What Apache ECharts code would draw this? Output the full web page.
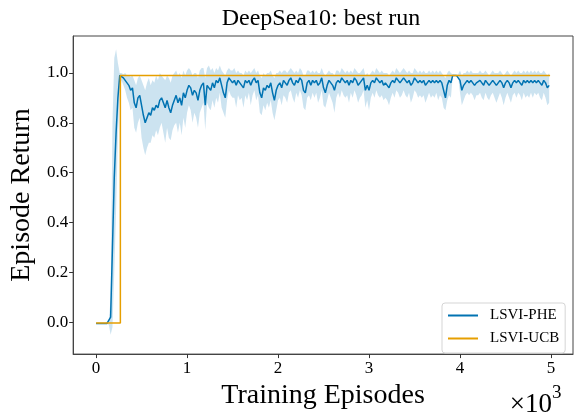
<!DOCTYPE html>
<html>
<head>
<meta charset="utf-8">
<script src="https://cdn.jsdelivr.net/npm/echarts@6/dist/echarts.min.js"></script>
<style>html,body{margin:0;padding:0;background:#fff;}#chart{width:576px;height:415px;}</style>
</head>
<body>
<div id="chart"></div>
<script>
// ---- data ----
const STEP = 20;
const pheEpisodes = Array.from({length: 250}, (_, i) => i * STEP);
const pheMean = [
 -0.005,-0.005,-0.005,-0.005,-0.005,-0.005,-0.005,-0.005,0.02,0.30,
 0.58,0.76,0.90,0.99,0.99,0.98,0.975,0.96,0.95,0.93,
 0.94,0.88,0.86,0.90,0.91,0.87,0.83,0.80,0.82,0.84,
 0.83,0.86,0.85,0.87,0.86,0.89,0.90,0.88,0.86,0.89,
 0.86,0.84,0.87,0.89,0.91,0.88,0.90,0.87,0.92,0.90,
 0.93,0.95,0.94,0.91,0.93,0.92,0.89,0.93,0.95,0.96,
 0.87,0.95,0.94,0.93,0.96,0.94,0.97,0.96,0.98,0.95,
 0.92,0.90,0.96,0.98,0.97,0.96,0.97,0.95,0.97,0.96,
 0.96,0.94,0.97,0.96,0.97,0.95,0.97,0.98,0.96,0.97,
 0.92,0.90,0.94,0.93,0.95,0.94,0.96,0.92,0.89,0.93,
 0.95,0.96,0.94,0.97,0.96,0.95,0.97,0.98,0.96,0.95,
 0.97,0.96,0.98,0.97,0.93,0.92,0.96,0.97,0.95,0.97,
 0.96,0.97,0.95,0.96,0.98,0.94,0.92,0.95,0.97,0.96,
 0.95,0.93,0.96,0.97,0.96,0.98,0.97,0.96,0.97,0.95,
 0.97,0.96,0.98,0.97,0.95,0.96,0.97,0.98,0.93,0.95,
 0.93,0.96,0.97,0.96,0.98,0.97,0.96,0.97,0.95,0.96,
 0.95,0.94,0.96,0.97,0.96,0.98,0.97,0.96,0.97,0.98,
 0.97,0.96,0.97,0.95,0.96,0.98,0.97,0.96,0.97,0.96,
 0.97,0.95,0.96,0.97,0.96,0.97,0.96,0.97,0.96,0.97,
 0.96,0.93,0.90,0.95,0.97,0.96,0.99,0.99,0.99,0.99,
 0.97,0.93,0.95,0.96,0.97,0.96,0.97,0.96,0.95,0.96,
 0.96,0.97,0.96,0.95,0.97,0.96,0.95,0.96,0.97,0.96,
 0.95,0.96,0.97,0.96,0.94,0.96,0.97,0.96,0.94,0.96,
 0.97,0.96,0.97,0.96,0.95,0.97,0.96,0.97,0.96,0.97,
 0.96,0.97,0.96,0.97,0.96,0.95,0.97,0.96,0.94,0.95
];
const pheUpper = [
 -0.003,-0.003,-0.003,-0.003,-0.003,-0.003,-0.003,0.00,0.10,0.80,
 1.06,1.095,1.04,1.00,1.00,0.995,1.00,0.99,0.99,0.985,
 0.99,0.97,0.95,0.98,0.99,0.97,0.95,0.93,0.96,0.98,
 0.95,0.97,0.96,0.99,0.97,1.00,0.99,0.98,0.97,0.99,
 0.98,0.96,0.99,1.00,1.01,0.99,1.00,0.98,1.01,0.99,
 1.01,1.02,1.01,0.99,1.00,1.00,0.98,1.01,1.02,1.02,
 0.98,1.02,1.03,1.01,1.02,1.00,1.02,1.01,1.03,1.01,
 1.00,0.99,1.01,1.02,1.01,1.01,1.02,1.00,1.01,1.00,
 1.00,0.99,1.01,1.00,1.01,1.00,1.01,1.02,1.00,1.01,
 0.99,0.98,1.00,0.99,1.00,1.00,1.01,0.99,0.98,1.00,
 1.00,1.01,1.00,1.01,1.01,1.00,1.01,1.02,1.01,1.00,
 1.01,1.00,1.02,1.01,0.99,0.99,1.01,1.01,1.00,1.01,
 1.00,1.01,1.00,1.00,1.02,1.00,0.99,1.00,1.01,1.00,
 1.00,0.99,1.01,1.01,1.00,1.02,1.01,1.00,1.01,1.00,
 1.01,1.00,1.02,1.01,1.00,1.00,1.01,1.02,0.99,1.00,
 0.99,1.00,1.01,1.00,1.02,1.01,1.00,1.01,1.00,1.00,
 1.00,0.99,1.00,1.01,1.00,1.02,1.01,1.00,1.01,1.02,
 1.01,1.00,1.01,1.00,1.00,1.02,1.01,1.00,1.01,1.00,
 1.01,1.00,1.00,1.01,1.00,1.01,1.00,1.01,1.00,1.01,
 1.00,0.99,0.98,1.00,1.01,1.00,0.995,0.993,0.993,0.995,
 1.01,0.99,1.00,1.00,1.01,1.00,1.01,1.00,1.00,1.00,
 1.00,1.01,1.00,1.00,1.01,1.00,0.99,1.00,1.01,1.00,
 1.00,1.00,1.01,1.00,0.99,1.00,1.01,1.00,0.99,1.00,
 1.01,1.00,1.01,1.00,1.00,1.01,1.00,1.01,1.00,1.01,
 1.00,1.01,1.00,1.01,1.00,1.00,1.01,1.00,0.99,1.00
];
const pheLower = [
 -0.007,-0.007,-0.007,-0.007,-0.007,-0.007,-0.007,-0.01,-0.05,-0.02,
 0.20,0.45,0.75,0.93,0.97,0.95,0.93,0.90,0.88,0.85,
 0.86,0.78,0.76,0.80,0.82,0.74,0.70,0.67,0.70,0.72,
 0.72,0.75,0.74,0.77,0.75,0.78,0.80,0.76,0.72,0.78,
 0.74,0.73,0.77,0.79,0.80,0.76,0.80,0.75,0.82,0.78,
 0.84,0.87,0.85,0.80,0.84,0.82,0.78,0.84,0.86,0.88,
 0.77,0.88,0.86,0.85,0.89,0.86,0.90,0.88,0.92,0.86,
 0.84,0.82,0.89,0.93,0.91,0.90,0.90,0.86,0.91,0.89,
 0.90,0.86,0.91,0.89,0.92,0.87,0.91,0.93,0.89,0.91,
 0.84,0.83,0.87,0.85,0.88,0.86,0.89,0.84,0.81,0.85,
 0.89,0.90,0.87,0.91,0.90,0.88,0.92,0.93,0.90,0.88,
 0.92,0.90,0.93,0.91,0.86,0.85,0.90,0.91,0.89,0.92,
 0.90,0.92,0.88,0.90,0.93,0.87,0.86,0.89,0.92,0.90,
 0.88,0.84,0.90,0.92,0.90,0.93,0.91,0.90,0.91,0.88,
 0.92,0.90,0.93,0.91,0.88,0.90,0.91,0.93,0.86,0.89,
 0.85,0.90,0.92,0.90,0.93,0.91,0.90,0.91,0.89,0.90,
 0.89,0.87,0.90,0.92,0.90,0.93,0.92,0.90,0.91,0.93,
 0.91,0.90,0.92,0.88,0.90,0.93,0.92,0.90,0.91,0.90,
 0.91,0.88,0.90,0.92,0.90,0.91,0.90,0.92,0.89,0.91,
 0.90,0.86,0.85,0.89,0.91,0.90,0.985,0.99,0.99,0.985,
 0.92,0.87,0.89,0.91,0.92,0.91,0.92,0.91,0.89,0.91,
 0.91,0.92,0.90,0.89,0.92,0.90,0.89,0.91,0.92,0.90,
 0.88,0.90,0.92,0.90,0.87,0.90,0.92,0.90,0.88,0.91,
 0.92,0.90,0.92,0.91,0.89,0.92,0.90,0.91,0.90,0.92,
 0.90,0.92,0.91,0.92,0.90,0.89,0.92,0.90,0.87,0.88
];
const ucbEpisodes = [0, 267, 267, 4990];
const ucbReturns = [-0.003, -0.003, 0.99, 0.99];
const xTicks = [0, 1000, 2000, 3000, 4000, 5000];
const yTicks = [0.0, 0.2, 0.4, 0.6, 0.8, 1.0];

// ---- build ----
const FONT = "'Liberation Serif', 'DejaVu Serif', serif";
const BLUE = '#0173b2';
const ORANGE = '#e69f00';
const meanPts = pheEpisodes.map((x, i) => [x, pheMean[i]]);
const ucbPts = ucbEpisodes.map((x, i) => [x, ucbReturns[i]]);

function renderBand(params, api) {
  const pts = [];
  for (let i = 0; i < pheEpisodes.length; i++) pts.push(api.coord([pheEpisodes[i], pheUpper[i]]));
  for (let i = pheEpisodes.length - 1; i >= 0; i--) pts.push(api.coord([pheEpisodes[i], pheLower[i]]));
  return {type: 'polygon', shape: {points: pts}, style: {fill: 'rgba(1,115,178,0.2)', stroke: null}};
}

const chart = echarts.init(document.getElementById('chart'), null, {renderer: 'canvas'});
chart.setOption({
  animation: false,
  backgroundColor: '#fff',
  textStyle: {fontFamily: FONT},
  title: {
    text: 'DeepSea10: best run',
    left: 321, top: 7, textAlign: 'center', padding: 0,
    textStyle: {fontFamily: FONT, fontSize: 24, fontWeight: 'normal', color: '#000'}
  },
  grid: {left: 70, right: 3, top: 36, bottom: 51, show: true, borderColor: '#444', borderWidth: 1, backgroundColor: 'transparent'},
  xAxis: {
    type: 'value', min: -252, max: 5242,
    name: 'Training Episodes', nameLocation: 'middle', nameGap: 24,
    nameTextStyle: {fontFamily: FONT, fontSize: 28, color: '#000'},
    axisLine: {show: true, onZero: false, lineStyle: {color: '#444', width: 1}},
    splitLine: {show: false},
    axisTick: {show: true, inside: false, length: 4, lineStyle: {color: '#333', width: 1}, customValues: xTicks},
    axisLabel: {customValues: xTicks, formatter: v => String(Math.round(v / 1000)), fontFamily: FONT, fontSize: 17, color: '#000', margin: 6}
  },
  yAxis: {
    type: 'value', min: -0.128, max: 1.148,
    name: 'Episode Return', nameLocation: 'middle', nameGap: 34,
    nameTextStyle: {fontFamily: FONT, fontSize: 28, color: '#000'},
    axisLine: {show: true, onZero: false, lineStyle: {color: '#444', width: 1}},
    splitLine: {show: false},
    axisTick: {show: true, inside: false, length: 4, lineStyle: {color: '#333', width: 1}, customValues: yTicks},
    axisLabel: {customValues: yTicks, formatter: v => v.toFixed(1), fontFamily: FONT, fontSize: 17, color: '#000', margin: 5}
  },
  legend: {
    data: ['LSVI-PHE', 'LSVI-UCB'],
    orient: 'vertical', left: 442, top: 303,
    icon: 'rect', itemWidth: 30, itemHeight: 2, itemGap: 8,
    padding: [5, 6, 7, 6],
    borderColor: '#d5d5d5', borderWidth: 1, borderRadius: 3, backgroundColor: '#fff',
    textStyle: {fontFamily: FONT, fontSize: 15, color: '#000', padding: [0, 0, 0, 7]}
  },
  graphic: [
    {type: 'text', right: 576 - 552, top: 391, style: {text: '\u00d710', font: "27px 'Liberation Serif', serif", fill: '#000'}},
    {type: 'text', left: 552, top: 384, style: {text: '3', font: "19px 'Liberation Serif', serif", fill: '#000'}}
  ],
  series: [
    {name: 'band', type: 'custom', data: [[0, 0]], renderItem: renderBand, silent: true, clip: true, z: 1},
    {name: 'LSVI-PHE', type: 'line', data: meanPts, symbol: 'none', color: BLUE,
     lineStyle: {color: BLUE, width: 1.5}, z: 3},
    {name: 'LSVI-UCB', type: 'line', data: ucbPts, symbol: 'none', color: ORANGE,
     lineStyle: {color: ORANGE, width: 1.5}, z: 4}
  ]
});
</script>
</body>
</html>
